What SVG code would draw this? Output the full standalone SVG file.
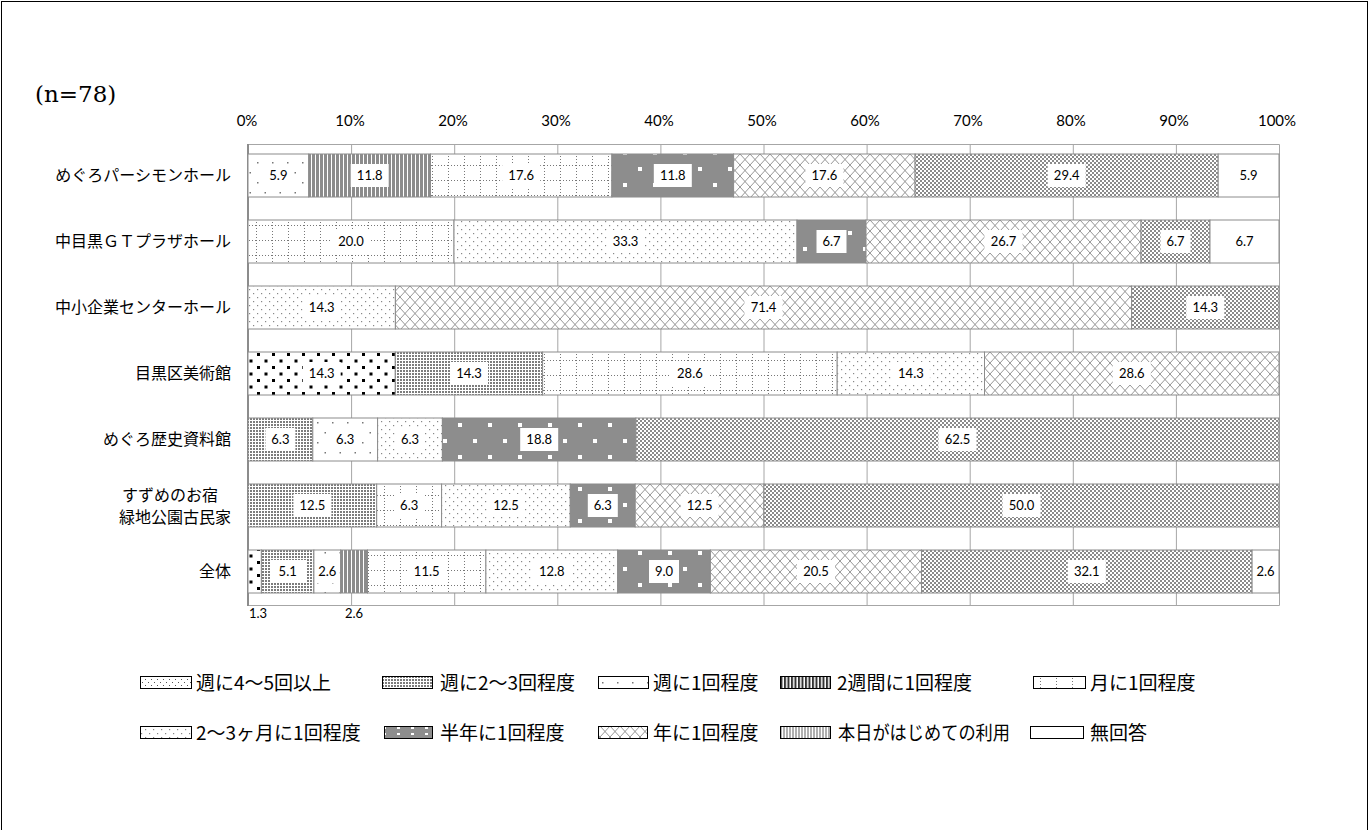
<svg xmlns="http://www.w3.org/2000/svg" width="1370" height="830" viewBox="0 0 1370 830">
<style>
.jp{font-family:"Noto Sans CJK JP","Noto Sans",sans-serif;fill:#000}
.cat{font-size:16px;text-anchor:end}
.cc{font-size:16px;text-anchor:middle}
.lg{font-size:19px}
.tk{font-family:Lato,"Liberation Sans",sans-serif;font-size:15px;text-anchor:middle;fill:#000}
.v{font-family:Lato,"Liberation Sans",sans-serif;font-size:13px;text-anchor:middle;fill:#000}
.s{stroke:#8c8c8c;stroke-width:1}
.lb{fill:#fff}
.grid{stroke:#a6a6a6;stroke-width:1}
.sw{stroke:#000;stroke-width:1}
</style>
<defs>
<pattern id="c0" width="15" height="13" patternUnits="userSpaceOnUse"><rect width="15" height="13" fill="#fff"/><rect x="2" y="2" width="3" height="3" fill="#000"/><rect x="9.5" y="8.5" width="3" height="3" fill="#000"/></pattern>
<pattern id="c0L" width="6" height="6" patternUnits="userSpaceOnUse"><rect width="6" height="6" fill="#fff"/><rect x="1" y="1" width="1" height="1" fill="#555"/><rect x="4" y="4" width="1" height="1" fill="#555"/></pattern>
<pattern id="c1" width="3" height="3" patternUnits="userSpaceOnUse"><rect width="3" height="3" fill="#fff"/><rect x="1" y="1" width="2" height="2" fill="#7c7c7c"/></pattern>
<pattern id="c2" width="15" height="20" patternUnits="userSpaceOnUse"><rect width="15" height="20" fill="#fff"/><rect x="2" y="2" width="1.5" height="1.5" fill="#777"/><rect x="9.5" y="12" width="1.5" height="1.5" fill="#777"/></pattern>
<pattern id="c3" width="4" height="4" patternUnits="userSpaceOnUse"><rect width="4" height="4" fill="#fff"/><rect x="0" y="0" width="3" height="4" fill="#8c8c8c"/></pattern>
<pattern id="c3L" width="3.5" height="4" patternUnits="userSpaceOnUse"><rect width="3.5" height="4" fill="#fff"/><rect x="0" y="0" width="2" height="4" fill="#333"/></pattern>
<pattern id="c4" width="16" height="15" patternUnits="userSpaceOnUse"><rect width="16" height="15" fill="#fff"/><path d="M0.5 0V15M0 0.5H16" stroke="#777" stroke-width="1" stroke-dasharray="1 2" fill="none"/></pattern>
<pattern id="c5" width="8" height="8" patternUnits="userSpaceOnUse"><rect width="8" height="8" fill="#fff"/><rect x="1" y="1" width="1.2" height="1.2" fill="#888"/><rect x="5" y="5" width="1.2" height="1.2" fill="#888"/></pattern>
<pattern id="c6" width="30" height="32" patternUnits="userSpaceOnUse"><rect width="30" height="32" fill="#8d8d8d"/><rect x="8" y="7" width="4" height="4" fill="#fff"/><rect x="23" y="23" width="4" height="4" fill="#fff"/></pattern>
<pattern id="c6L" width="14" height="6" patternUnits="userSpaceOnUse"><rect width="14" height="6" fill="#8d8d8d"/><rect x="5" y="1" width="3" height="2" fill="#fff"/></pattern>
<pattern id="c7" width="10" height="11" patternUnits="userSpaceOnUse"><rect width="10" height="11" fill="#fff"/><path d="M0 0L10 11M10 0L0 11" stroke="#8a8a8a" stroke-width="0.9" fill="none"/></pattern>
<pattern id="c8" width="4" height="4" patternUnits="userSpaceOnUse"><rect width="4" height="4" fill="#fff"/><rect x="0" y="0" width="2" height="2" fill="#8a8a8a"/><rect x="2" y="2" width="2" height="2" fill="#8a8a8a"/></pattern>
<pattern id="c8L" width="3" height="4" patternUnits="userSpaceOnUse"><rect width="3" height="4" fill="#fff"/><rect x="0" y="0" width="2" height="4" fill="#b0b0b0"/></pattern>
</defs>
<rect x="0" y="0" width="1370" height="830" fill="#fff"/>
<rect x="1.5" y="1.5" width="1366" height="840" fill="none" stroke="#000" stroke-width="1"/>
<text x="35" y="102" font-family="DejaVu Serif,serif" font-size="23">(n=78)</text>
<g id="axis">
<path class="grid" d="M351.6 144V606M454.7 144V606M557.8 144V606M660.9 144V606M764 144V606M867.1 144V606M970.2 144V606M1073.3 144V606M1176.4 144V606"/>
<path class="grid" d="M248 144.5H1279.5V605.5H248" fill="none"/>
<path d="M248 144V606" stroke="#8c8c8c" stroke-width="2"/>
<text class="tk" x="247" y="126">0%</text>
<text class="tk" x="350" y="126">10%</text>
<text class="tk" x="453" y="126">20%</text>
<text class="tk" x="556" y="126">30%</text>
<text class="tk" x="659" y="126">40%</text>
<text class="tk" x="762" y="126">50%</text>
<text class="tk" x="865" y="126">60%</text>
<text class="tk" x="968" y="126">70%</text>
<text class="tk" x="1071" y="126">80%</text>
<text class="tk" x="1174" y="126">90%</text>
<text class="tk" x="1277" y="126">100%</text>
</g>
<g id="row1">
<text class="jp cat" x="231" y="181">めぐろパーシモンホール</text>
<rect class="s" x="248" y="154" width="60.8" height="43" fill="url(#c2)"/>
<rect class="s" x="308.8" y="154" width="121.7" height="43" fill="url(#c3)"/>
<rect class="s" x="430.5" y="154" width="181.4" height="43" fill="url(#c4)"/>
<rect class="s" x="611.9" y="154" width="121.7" height="43" fill="url(#c6)"/>
<rect class="s" x="733.6" y="154" width="181.5" height="43" fill="url(#c7)"/>
<rect class="s" x="915.1" y="154" width="303.1" height="43" fill="url(#c8)"/>
<rect class="s" x="1218.2" y="154" width="60.8" height="43" fill="#fff"/>
<rect class="lb" x="263.4" y="164" width="30" height="23"/><text class="v" x="278.4" y="180">5.9</text>
<rect class="lb" x="350.7" y="164" width="38" height="23"/><text class="v" x="369.7" y="180">11.8</text>
<rect class="lb" x="502.2" y="164" width="38" height="23"/><text class="v" x="521.2" y="180">17.6</text>
<rect class="lb" x="653.8" y="164" width="38" height="23"/><text class="v" x="672.8" y="180">11.8</text>
<rect class="lb" x="805.4" y="164" width="38" height="23"/><text class="v" x="824.4" y="180">17.6</text>
<rect class="lb" x="1047.7" y="164" width="38" height="23"/><text class="v" x="1066.7" y="180">29.4</text>
<text class="v" x="1248.6" y="180">5.9</text>
</g>
<g id="row2">
<text class="jp cat" x="231" y="247">中目黒ＧＴプラザホール</text>
<rect class="s" x="248" y="220" width="206" height="43" fill="url(#c4)"/>
<rect class="s" x="454" y="220" width="343" height="43" fill="url(#c5)"/>
<rect class="s" x="797" y="220" width="69" height="43" fill="url(#c6)"/>
<rect class="s" x="866" y="220" width="275" height="43" fill="url(#c7)"/>
<rect class="s" x="1141" y="220" width="69" height="43" fill="url(#c8)"/>
<rect class="s" x="1210" y="220" width="69" height="43" fill="#fff"/>
<rect class="lb" x="332" y="230" width="38" height="23"/><text class="v" x="351" y="246">20.0</text>
<rect class="lb" x="606.5" y="230" width="38" height="23"/><text class="v" x="625.5" y="246">33.3</text>
<rect class="lb" x="816.5" y="230" width="30" height="23"/><text class="v" x="831.5" y="246">6.7</text>
<rect class="lb" x="984.5" y="230" width="38" height="23"/><text class="v" x="1003.5" y="246">26.7</text>
<rect class="lb" x="1160.5" y="230" width="30" height="23"/><text class="v" x="1175.5" y="246">6.7</text>
<text class="v" x="1244.5" y="246">6.7</text>
</g>
<g id="row3">
<text class="jp cat" x="231" y="313">中小企業センターホール</text>
<rect class="s" x="248" y="286" width="147.4" height="43" fill="url(#c5)"/>
<rect class="s" x="395.4" y="286" width="736.2" height="43" fill="url(#c7)"/>
<rect class="s" x="1131.6" y="286" width="147.4" height="43" fill="url(#c8)"/>
<rect class="lb" x="302.7" y="296" width="38" height="23"/><text class="v" x="321.7" y="312">14.3</text>
<rect class="lb" x="744.5" y="296" width="38" height="23"/><text class="v" x="763.5" y="312">71.4</text>
<rect class="lb" x="1186.3" y="296" width="38" height="23"/><text class="v" x="1205.3" y="312">14.3</text>
</g>
<g id="row4">
<text class="jp cat" x="231" y="379">目黒区美術館</text>
<rect class="s" x="248" y="352" width="147.3" height="43" fill="url(#c0)"/>
<rect class="s" x="395.3" y="352" width="147.3" height="43" fill="url(#c1)"/>
<rect class="s" x="542.6" y="352" width="294.6" height="43" fill="url(#c4)"/>
<rect class="s" x="837.2" y="352" width="147.3" height="43" fill="url(#c5)"/>
<rect class="s" x="984.5" y="352" width="294.5" height="43" fill="url(#c7)"/>
<rect class="lb" x="302.7" y="362" width="38" height="23"/><text class="v" x="321.7" y="378">14.3</text>
<rect class="lb" x="450" y="362" width="38" height="23"/><text class="v" x="469" y="378">14.3</text>
<rect class="lb" x="670.9" y="362" width="38" height="23"/><text class="v" x="689.9" y="378">28.6</text>
<rect class="lb" x="891.9" y="362" width="38" height="23"/><text class="v" x="910.9" y="378">14.3</text>
<rect class="lb" x="1112.8" y="362" width="38" height="23"/><text class="v" x="1131.8" y="378">28.6</text>
</g>
<g id="row5">
<text class="jp cat" x="231" y="445">めぐろ歴史資料館</text>
<rect class="s" x="248" y="418" width="64.8" height="43" fill="url(#c1)"/>
<rect class="s" x="312.8" y="418" width="64.8" height="43" fill="url(#c2)"/>
<rect class="s" x="377.6" y="418" width="64.8" height="43" fill="url(#c5)"/>
<rect class="s" x="442.4" y="418" width="193.5" height="43" fill="url(#c6)"/>
<rect class="s" x="635.9" y="418" width="643.1" height="43" fill="url(#c8)"/>
<rect class="lb" x="265.4" y="428" width="30" height="23"/><text class="v" x="280.4" y="444">6.3</text>
<rect class="lb" x="330.2" y="428" width="30" height="23"/><text class="v" x="345.2" y="444">6.3</text>
<rect class="lb" x="395" y="428" width="30" height="23"/><text class="v" x="410" y="444">6.3</text>
<rect class="lb" x="520.2" y="428" width="38" height="23"/><text class="v" x="539.2" y="444">18.8</text>
<rect class="lb" x="938.5" y="428" width="38" height="23"/><text class="v" x="957.5" y="444">62.5</text>
</g>
<g id="row6">
<text class="jp cc" x="170" y="501">すずめのお宿</text>
<text class="jp cc" x="175" y="523">緑地公園古民家</text>
<rect class="s" x="248" y="484" width="128.7" height="43" fill="url(#c1)"/>
<rect class="s" x="376.7" y="484" width="64.9" height="43" fill="url(#c4)"/>
<rect class="s" x="441.6" y="484" width="128.7" height="43" fill="url(#c5)"/>
<rect class="s" x="570.3" y="484" width="64.9" height="43" fill="url(#c6)"/>
<rect class="s" x="635.2" y="484" width="128.7" height="43" fill="url(#c7)"/>
<rect class="s" x="763.9" y="484" width="515.1" height="43" fill="url(#c8)"/>
<rect class="lb" x="293.4" y="494" width="38" height="23"/><text class="v" x="312.4" y="510">12.5</text>
<rect class="lb" x="394.2" y="494" width="30" height="23"/><text class="v" x="409.2" y="510">6.3</text>
<rect class="lb" x="487" y="494" width="38" height="23"/><text class="v" x="506" y="510">12.5</text>
<rect class="lb" x="587.8" y="494" width="30" height="23"/><text class="v" x="602.8" y="510">6.3</text>
<rect class="lb" x="680.6" y="494" width="38" height="23"/><text class="v" x="699.6" y="510">12.5</text>
<rect class="lb" x="1002.5" y="494" width="38" height="23"/><text class="v" x="1021.5" y="510">50.0</text>
</g>
<g id="row7">
<text class="jp cat" x="231" y="577">全体</text>
<rect class="s" x="248" y="550" width="13.4" height="43" fill="url(#c0)"/>
<rect class="s" x="261.4" y="550" width="52.5" height="43" fill="url(#c1)"/>
<rect class="s" x="313.9" y="550" width="26.8" height="43" fill="url(#c2)"/>
<rect class="s" x="340.7" y="550" width="26.8" height="43" fill="url(#c3)"/>
<rect class="s" x="367.5" y="550" width="118.4" height="43" fill="url(#c4)"/>
<rect class="s" x="485.9" y="550" width="131.8" height="43" fill="url(#c5)"/>
<rect class="s" x="617.7" y="550" width="92.7" height="43" fill="url(#c6)"/>
<rect class="s" x="710.4" y="550" width="211.1" height="43" fill="url(#c7)"/>
<rect class="s" x="921.5" y="550" width="330.6" height="43" fill="url(#c8)"/>
<rect class="s" x="1252.1" y="550" width="26.9" height="43" fill="#fff"/>
<rect class="lb" x="270" y="560" width="36" height="23"/><text class="v" x="287.7" y="576">5.1</text>
<rect class="lb" x="315" y="560" width="24.6" height="23"/><text class="v" x="327.3" y="576">2.6</text>
<rect class="lb" x="407.7" y="560" width="38" height="23"/><text class="v" x="426.7" y="576">11.5</text>
<rect class="lb" x="532.8" y="560" width="38" height="23"/><text class="v" x="551.8" y="576">12.8</text>
<rect class="lb" x="649" y="560" width="30" height="23"/><text class="v" x="664" y="576">9.0</text>
<rect class="lb" x="797" y="560" width="38" height="23"/><text class="v" x="816" y="576">20.5</text>
<rect class="lb" x="1067.8" y="560" width="38" height="23"/><text class="v" x="1086.8" y="576">32.1</text>
<text class="v" x="1265.6" y="576">2.6</text>
<text class="v" x="258" y="618">1.3</text>
<text class="v" x="354" y="618">2.6</text>
</g>
<g id="legend">
<g id="lg0"><rect class="sw" x="140.5" y="676.5" width="51" height="12" fill="url(#c0L)"/><text class="jp lg" x="196" y="690">週に4～5回以上</text></g>
<g id="lg1"><rect class="sw" x="382.5" y="676.5" width="50" height="12" fill="url(#c1)"/><text class="jp lg" x="440" y="690">週に2～3回程度</text></g>
<g id="lg2"><rect class="sw" x="598.5" y="676.5" width="50" height="12" fill="url(#c2)"/><text class="jp lg" x="653" y="690">週に1回程度</text></g>
<g id="lg3"><rect class="sw" x="780.5" y="676.5" width="50" height="12" fill="url(#c3L)"/><text class="jp lg" x="837" y="690">2週間に1回程度</text></g>
<g id="lg4"><rect class="sw" x="1033.5" y="676.5" width="52" height="12" fill="url(#c4)"/><text class="jp lg" x="1090" y="690">月に1回程度</text></g>
<g id="lg5"><rect class="sw" x="140.5" y="726.5" width="51" height="12" fill="url(#c5)"/><text class="jp lg" x="196" y="740">2～3ヶ月に1回程度</text></g>
<g id="lg6"><rect class="sw" x="384.5" y="726.5" width="48" height="12" fill="url(#c6L)"/><text class="jp lg" x="440" y="740">半年に1回程度</text></g>
<g id="lg7"><rect class="sw" x="598.5" y="726.5" width="49" height="12" fill="url(#c7)"/><text class="jp lg" x="653" y="740">年に1回程度</text></g>
<g id="lg8"><rect class="sw" x="780.5" y="726.5" width="50" height="12" fill="url(#c8L)"/><text class="jp lg" x="838" y="740" textLength="172" lengthAdjust="spacingAndGlyphs">本日がはじめての利用</text></g>
<g id="lg9"><rect class="sw" x="1030.5" y="726.5" width="53" height="12" fill="#fff"/><text class="jp lg" x="1090" y="740">無回答</text></g>
</g>
</svg>
